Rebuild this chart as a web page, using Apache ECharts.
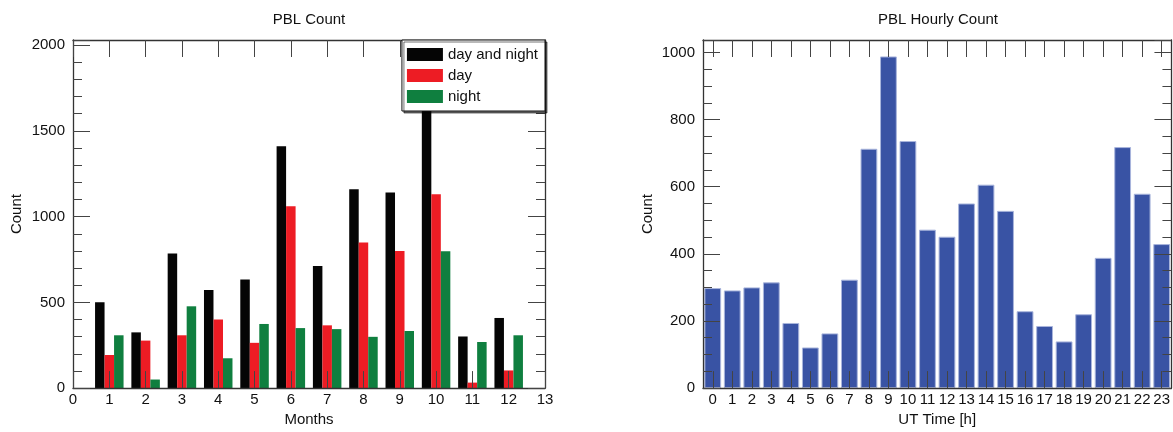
<!DOCTYPE html>
<html>
<head>
<meta charset="utf-8">
<script src="https://cdn.jsdelivr.net/npm/echarts@6/dist/echarts.min.js"></script>
<style>
html,body{margin:0;padding:0;background:#fff;}
#c{width:1173px;height:432px;}
</style>
</head>
<body>
<div id="c"></div>
<script>
// ---- Data ----
const monthLabels = ['0','1','2','3','4','5','6','7','8','9','10','11','12','13'];
const dayAndNight = [null, 501, 325, 785, 572, 634, 1410, 712, 1160, 1141, 1750, 301, 409, null];
const dayOnly     = [null, 193, 277, 308, 400, 264, 1060, 366, 849, 800, 1130, 32, 103, null];
const nightOnly   = [null, 308, 50, 477, 174, 374, 350, 344, 299, 333, 798, 269, 308, null];

const hourLabels = ['0','1','2','3','4','5','6','7','8','9','10','11','12','13','14','15','16','17','18','19','20','21','22','23'];
const hourlyCount = [298, 291, 300, 315, 194, 121, 163, 323, 713, 988, 736, 472, 451, 550, 606, 528, 229, 185, 139, 220, 388, 718, 579, 429];

const leftYTicks = { min: 0, max: 2030, interval: 500, minorSplit: 5 };
const rightYTicks = { min: 0, max: 1037, interval: 200, minorSplit: 4 };

// ---- Styles ----
const FONT = "'Liberation Sans', Arial, Helvetica, sans-serif";
const TXT = '#111';
const LINE = '#333';
const TICK = '#444';

function xAxes(data, gridIndex, name, boundaryGap) {
  const tick = { show: true, inside: true, length: 17, alignWithLabel: true, interval: 0, lineStyle: { color: TICK, width: 1 } };
  return [
    { type: 'category', gridIndex, data, boundaryGap, position: 'bottom', z: 10,
      name, nameLocation: 'middle', nameGap: 17,
      nameTextStyle: { fontFamily: FONT, fontSize: 15, color: TXT },
      axisLine: { show: true, onZero: false, lineStyle: { color: LINE, width: 1.3 } },
      axisTick: tick,
      axisLabel: { interval: 0, margin: 4, fontFamily: FONT, fontSize: 15, color: TXT },
      splitLine: { show: false } },
    { type: 'category', gridIndex, data, boundaryGap, position: 'top', z: 10,
      axisLine: { show: true, onZero: false, lineStyle: { color: LINE, width: 1.3 } },
      axisTick: tick,
      axisLabel: { show: false },
      splitLine: { show: false } }
  ];
}

function yAxes(t, gridIndex, nameGap) {
  const base = {
    type: 'value', gridIndex, min: t.min, max: t.max, interval: t.interval, z: 10,
    axisLine: { show: true, onZero: false, lineStyle: { color: LINE, width: 1.3 } },
    axisTick: { show: true, inside: true, length: 17, lineStyle: { color: TICK, width: 1 } },
    minorTick: { show: true, splitNumber: t.minorSplit, length: 9, lineStyle: { color: TICK, width: 1 } },
    splitLine: { show: false },
    minorSplitLine: { show: false }
  };
  return [
    Object.assign({}, base, {
      position: 'left', name: 'Count', nameLocation: 'middle', nameGap, nameRotate: 90,
      nameTextStyle: { fontFamily: FONT, fontSize: 15, color: TXT },
      axisLabel: { margin: 8, fontFamily: FONT, fontSize: 15, color: TXT, showMaxLabel: false,
        formatter: function (v) { return String(v); } }
    }),
    Object.assign({}, base, { position: 'right', axisLabel: { show: false } })
  ];
}

const chart = echarts.init(document.getElementById('c'), null, { renderer: 'canvas' });

const option = {
  backgroundColor: '#fff',
  animation: false,
  title: [
    { text: 'PBL Count', left: 309, top: 12, textAlign: 'center', padding: 0,
      textStyle: { fontFamily: FONT, fontSize: 15, fontWeight: 'normal', color: TXT } },
    { text: 'PBL Hourly Count', left: 938, top: 12, textAlign: 'center', padding: 0,
      textStyle: { fontFamily: FONT, fontSize: 15, fontWeight: 'normal', color: TXT } }
  ],
  legend: {
    orient: 'vertical', right: 628, top: 40, z: 20,
    padding: [7, 7, 7, 5],
    itemGap: 6, itemWidth: 36, itemHeight: 13,
    backgroundColor: '#fff', borderColor: '#111', borderWidth: 1,
    shadowColor: 'rgba(0,0,0,0.55)', shadowBlur: 0, shadowOffsetX: 2, shadowOffsetY: 2,
    icon: 'rect',
    textStyle: { fontFamily: FONT, fontSize: 15, color: TXT },
    data: ['day and night', 'day', 'night']
  },
  grid: [
    { left: 73, top: 40, width: 472, height: 358 },
    { left: 703, top: 40, width: 470, height: 358 }
  ],
  xAxis: [].concat(xAxes(monthLabels, 0, 'Months', false), xAxes(hourLabels, 1, 'UT Time [h]', true)),
  yAxis: [].concat(yAxes(leftYTicks, 0, 49), yAxes(rightYTicks, 1, 48)),
  series: [
    { name: 'day and night', type: 'bar', xAxisIndex: 0, yAxisIndex: 0, data: dayAndNight,
      barWidth: 9.5, barGap: '0%', itemStyle: { color: '#050505' } },
    { name: 'day', type: 'bar', xAxisIndex: 0, yAxisIndex: 0, data: dayOnly,
      barWidth: 9.5, barGap: '0%', itemStyle: { color: '#ed1c24' } },
    { name: 'night', type: 'bar', xAxisIndex: 0, yAxisIndex: 0, data: nightOnly,
      barWidth: 9.5, barGap: '0%', itemStyle: { color: '#0f7f3f' } },
    { name: 'hourly', type: 'bar', xAxisIndex: 2, yAxisIndex: 2, data: hourlyCount,
      barCategoryGap: '14%', itemStyle: { color: '#3953a4', borderColor: '#a9b5dc', borderWidth: 1 } }
  ]
};
chart.setOption(option);
</script>
</body>
</html>
